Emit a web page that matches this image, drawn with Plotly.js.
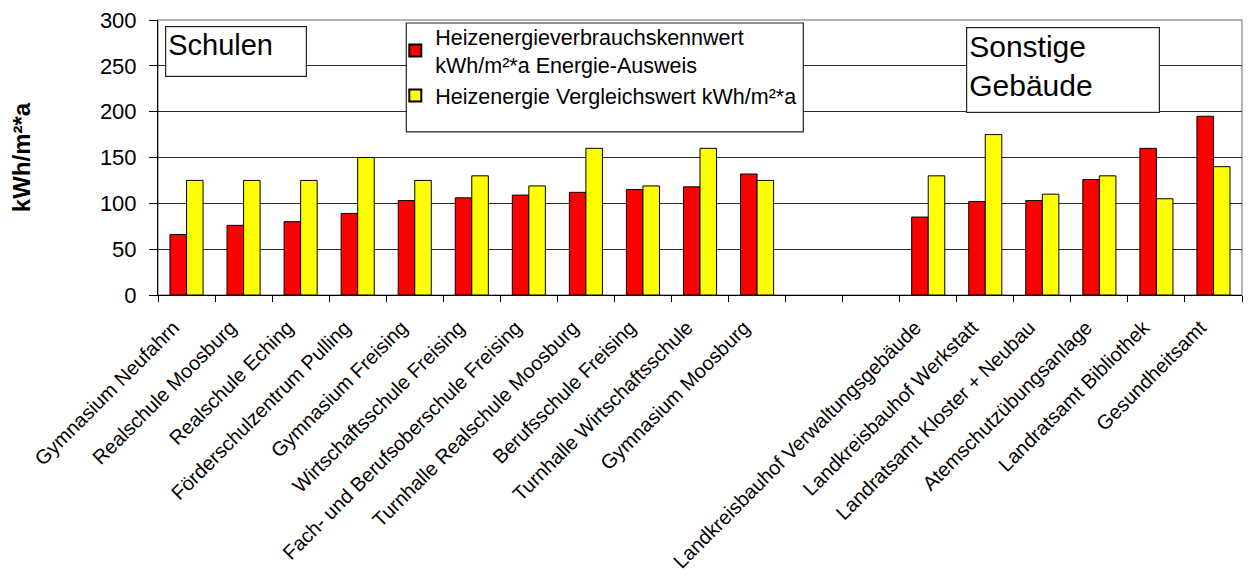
<!DOCTYPE html>
<html>
<head>
<meta charset="utf-8">
<script src="https://cdn.plot.ly/plotly-3.0.1.min.js"></script>
<style>html,body{margin:0;padding:0;background:#fff;}#chart{width:1250px;height:582px;}</style>
</head>
<body>
<div id="chart"></div>
<script>
const categories = [
  "Gymnasium Neufahrn", "Realschule Moosburg", "Realschule Eching", "Förderschulzentrum Pulling",
  "Gymnasium Freising", "Wirtschaftsschule Freising", "Fach- und Berufsoberschule Freising",
  "Turnhalle Realschule Moosburg", "Berufsschule Freising", "Turnhalle Wirtschaftsschule",
  "Gymnasium Moosburg", " ", "  ", "Landkreisbauhof Verwaltungsgebäude", "Landkreisbauhof Werkstatt",
  "Landratsamt Kloster + Neubau", "Atemschutzübungsanlage", "Landratsamt Bibliothek", "Gesundheitsamt"
];
const verbrauch = [66, 76, 80, 89, 103, 106, 109, 112, 115, 118, 132, null, null, 85, 102, 103, 126, 160, 195];
const vergleich = [125, 125, 125, 150, 125, 130, 119, 160, 119, 160, 125, null, null, 130, 175, 110, 130, 105, 140];
const seriesNames = ["Heizenergieverbrauchskennwert<br>kWh/m²*a Energie-Ausweis", "Heizenergie Vergleichswert kWh/m²*a"];
const yTicks = [0, 50, 100, 150, 200, 250, 300];

const FONT = "Liberation Sans, Arial, sans-serif";
const L = 157.7, R = 1241.7, T = 20, B = 295.3;
const W = 1250, H = 582;
const px = v => (v - L) / (R - L);
const py = v => (B - v) / (B - T);

const traces = [
  {type: "bar", name: seriesNames[0], x: categories, y: verbrauch,
   marker: {color: "#FF0000", line: {color: "#000", width: 1}}},
  {type: "bar", name: seriesNames[1], x: categories, y: vergleich,
   marker: {color: "#FFFF00", line: {color: "#000", width: 1}}}
];

const layout = {
  width: W, height: H,
  margin: {l: L, r: W - R, t: T, b: H - B, pad: 0},
  paper_bgcolor: "#fff", plot_bgcolor: "#fff",
  font: {family: FONT, size: 20, color: "#000"},
  barmode: "group", bargap: 0.42, bargroupgap: 0,
  showlegend: true,
  legend: {x: px(395), y: py(16), xanchor: "left", yanchor: "top",
           bgcolor: "rgba(0,0,0,0)", borderwidth: 0,
           font: {family: FONT, size: 21.5, color: "#000"},
           tracegroupgap: 0, itemsizing: "constant"},
  xaxis: {type: "category", categoryorder: "array", categoryarray: categories,
          tickangle: -45, tickson: "boundaries", ticks: "outside", ticklen: 6,
          tickcolor: "#000", showline: true, linecolor: "#000", linewidth: 1,
          showgrid: false, automargin: false, zeroline: false,
          ticklabelshift: -13, ticklabelstandoff: 12,
          tickfont: {family: FONT, size: 20, color: "#000"}},
  yaxis: {range: [0, 300], tickvals: yTicks, ticks: "outside", ticklen: 8,
          tickcolor: "#000", showline: true, linecolor: "#000", linewidth: 1,
          showgrid: true, gridcolor: "#2a2a2a", gridwidth: 1, zeroline: false,
          automargin: false, ticklabelstandoff: 8,
          tickfont: {family: FONT, size: 22, color: "#000"},
          title: {text: "<b>kWh/m²*a</b>", standoff: 62,
                  font: {family: FONT, size: 24, color: "#000"}}},
  shapes: [
    {type: "rect", xref: "paper", yref: "paper", x0: 0, x1: 1, y0: 0, y1: 1,
     line: {color: "#999", width: 1.5}, fillcolor: "rgba(0,0,0,0)", layer: "below"},
    {type: "rect", xref: "paper", yref: "paper", x0: px(406), x1: px(803), y0: py(23), y1: py(132),
     line: {color: "#222", width: 1.2}, fillcolor: "#fff", layer: "above"}
  ],
  annotations: [
    {xref: "paper", yref: "paper", x: px(165), y: py(26), xanchor: "left", yanchor: "top",
     text: "Schulen", showarrow: false, align: "left", valign: "top",
     width: 136, height: 45, bgcolor: "#fff", bordercolor: "#222", borderwidth: 1.2, borderpad: 2,
     font: {family: FONT, size: 29, color: "#000"}},
    {xref: "paper", yref: "paper", x: px(966), y: py(27), xanchor: "left", yanchor: "top",
     text: "Sonstige<br>Gebäude", showarrow: false, align: "left", valign: "top",
     width: 188, height: 80, bgcolor: "#fff", bordercolor: "#222", borderwidth: 1.2, borderpad: 2,
     font: {family: FONT, size: 30, color: "#000"}}
  ]
};

Plotly.newPlot("chart", traces, layout, {displayModeBar: false, staticPlot: true});
</script>
</body>
</html>
